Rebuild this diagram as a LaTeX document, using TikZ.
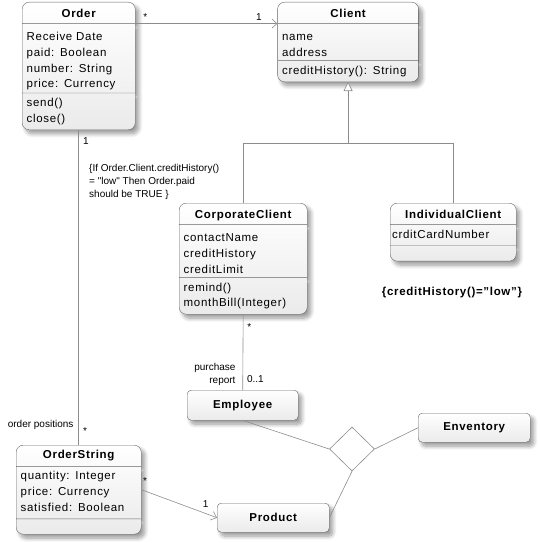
\documentclass[tikz,border=0pt]{standalone}
\usepackage{fontspec}
\setmainfont{Liberation Sans}[LetterSpace=6]
\newfontfamily\rotulofont{Liberation Sans}
\usetikzlibrary{shapes.multipart,shapes.geometric,positioning,shadows.blur,arrows.meta}
\newcommand{\titulo}{\rule[-3.5pt]{0pt}{16pt}}
\newcommand{\alto}{\rule{0pt}{14.5pt}}
\newcommand{\baixo}{\rule[-1.5pt]{0pt}{1.5pt}}
\tikzstyle{sombra} = [blur shadow={shadow xshift=3.5pt, shadow yshift=-4pt, shadow blur steps=8, shadow blur radius=4pt, shadow opacity=40}]
\tikzstyle{classe} = [rectangle split, rectangle split parts=3, draw=black!60, rounded corners=7pt, top color=white, bottom color=black!8, sombra, inner xsep=4.5pt, inner ysep=2.5pt, anchor=north west, align=left, font=\fontsize{11.5}{15.7}\selectfont]
\tikzstyle{caixa} = [rectangle, draw=black!60, rounded corners=4pt, top color=white, bottom color=black!8, sombra, minimum width=112pt, minimum height=29pt, anchor=north west, font=\fontsize{11.5}{14}\selectfont\bfseries]
\tikzstyle{linha} = [draw=black!45, line width=0.6pt]
\tikzstyle{seta} = [linha, -{Straight Barb[length=5pt,width=9pt]}]
\tikzstyle{heranca} = [linha, -{Triangle[open,length=9pt,width=9pt,fill=white]}]
\tikzstyle{rotulo} = [font=\rotulofont\fontsize{10}{13}\selectfont, inner sep=1pt]

\begin{document}
\begin{tikzpicture}[x=1pt,y=-1pt]
        \useasboundingbox (0,0) rectangle (540,543);
        % Classes principais
        \node (order) [classe, text width=104pt] at (22,2) {{\centering\bfseries\titulo Order\par}
            \nodepart{two}\alto Receive Date\\paid: Boolean\\number: String\\price: Currency\baixo
            \nodepart{three}\strut send()\\close()\strut};
        \node (client) [classe, text width=132pt, right=142pt of order.north east, anchor=north west] {{\centering\bfseries\titulo Client\par}
            \nodepart{two}\alto name\\address\baixo
            \nodepart{three}\strut creditHistory(): String\strut};
        % Subclasses de Client
        \node (corp) [classe, text width=119pt] at (179,203) {{\centering\bfseries\titulo CorporateClient\par}
            \nodepart{two}\alto contactName\\creditHistory\\creditLimit\baixo
            \nodepart{three}\strut remind()\\monthBill(Integer)\strut};
        \node (indiv) [classe, text width=122pt, inner xsep=2pt] at (390,203) {{\centering\bfseries\titulo IndividualClient\par}
            \nodepart{two}\strut crditCardNumber\strut
            \nodepart{three}\rule{0pt}{10pt}};
        \node (restricao) [font=\fontsize{11.5}{14}\selectfont\bfseries] at (452,293) {\{creditHistory()="low"\}};
        % Itens do pedido
        \node (ostring) [classe, text width=116pt] at (16,445) {{\centering\bfseries\strut OrderString\par}
            \nodepart{two}\strut quantity: Integer\\price: Currency\\satisfied: Boolean\strut
            \nodepart{three}\rule{0pt}{10pt}};
        \node (employee) [caixa, minimum width=111pt, minimum height=30pt] at (187,390) {Employee};
        \node (enventory) [caixa] at (418,413) {Enventory};
        \node (product) [caixa] at (217,503) {Product};
        \node (losango) [diamond, draw=black!45, line width=0.6pt, fill=white, inner sep=0pt, minimum width=45pt, minimum height=44pt] at (352,449) {};
        % Nota
        \node (nota) [rotulo, anchor=north west, align=left] at (88,163) {\{If Order.Client.creditHistory()\\= "low" Then Order.paid\\should be TRUE \}};
        % Associações
        \draw [seta] (order.text split east) -- (client.text split west)
            node [rotulo, pos=0.07, above=2pt] {*}
            node [rotulo, pos=0.87, above=2pt] {1};
        \draw [linha] (order.south) -- (ostring.north)
            node [rotulo, pos=0.035, right=3pt] {1}
            node [rotulo, pos=0.937, left=4pt] {order positions}
            node [rotulo, pos=0.955, right=3pt] {*};
        \draw [linha] (corp.south) -- (employee.north)
            node [rotulo, pos=0.17, right=3pt] {*}
            node [rotulo, pos=0.86, right=3pt] {0..1}
            node [rotulo, pos=0.8, left=6pt, align=right] {purchase\\report};
        \draw [seta] (ostring.east) -- (product.west)
            node [rotulo, pos=0.05, above=5pt] {*}
            node [rotulo, pos=0.85, above=5pt] {1};
        % Herança
        \coordinate (bifurca) at (client.south |- 0,143);
        \draw [heranca] (corp.north) |- (bifurca) -- (client.south);
        \draw [linha] (indiv.north) |- (bifurca);
        % Associação ternária
        \draw [linha] (employee.south) -- (losango.west);
        \draw [linha] (enventory.west) -- (losango.east);
        \draw [linha] (product.east) -- (losango.south);
    \end{tikzpicture}
\end{document}
